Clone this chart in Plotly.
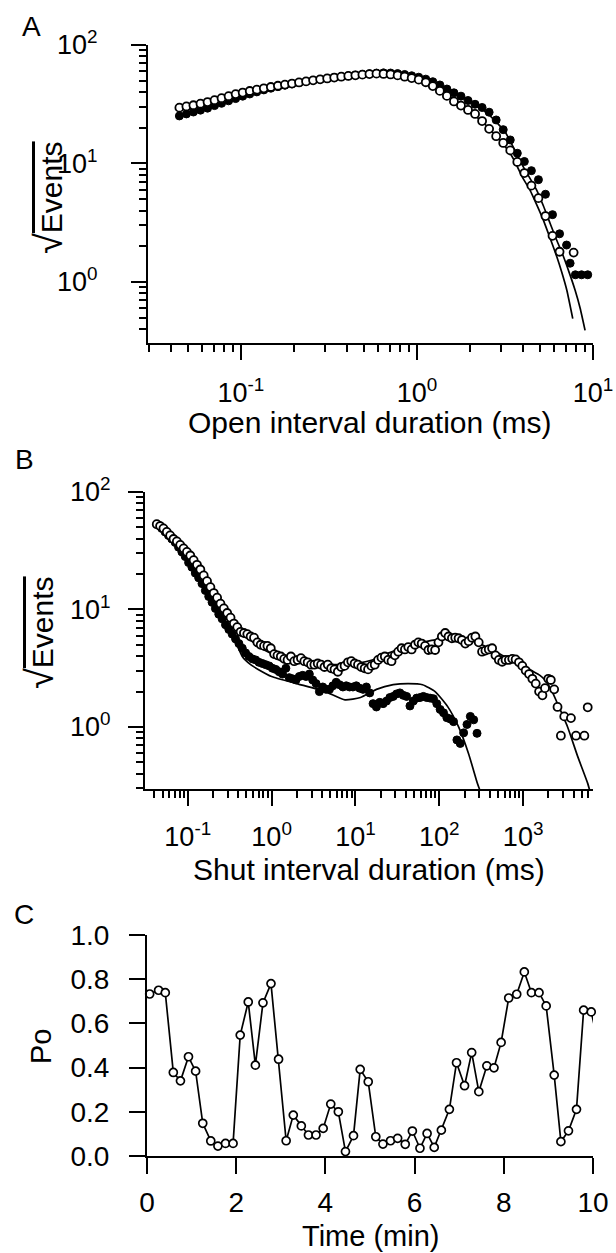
import plotly.graph_objects as go

W, H = 616, 1253
FONT = "Liberation Sans, Arial, Helvetica, sans-serif"

# ---------------- Panel A : open interval durations ----------------
A_x = [0.0447, 0.0490, 0.0537, 0.0589, 0.0646, 0.0708, 0.0776, 0.0851, 0.0933, 0.1023,
       0.1122, 0.1230, 0.1349, 0.1479, 0.1622, 0.1778, 0.1950, 0.2138, 0.2344, 0.2570,
       0.2818, 0.3090, 0.3388, 0.3715, 0.4074, 0.4467, 0.4898, 0.5370, 0.5888, 0.6457,
       0.7079, 0.7762, 0.8511, 0.9333, 1.023, 1.122, 1.230, 1.349, 1.479, 1.622,
       1.778, 1.950, 2.138, 2.344, 2.570, 2.818, 3.090, 3.388, 3.715, 4.074,
       4.467, 4.898, 5.370, 5.888, 6.457]
A_open_x = A_x + [7.762]
A_open_y = [29.6, 30.3, 31.0, 32.0, 33.0, 34.2, 35.6, 37.0, 38.5, 39.7,
            40.9, 42.0, 43.1, 44.2, 45.3, 46.3, 47.3, 48.3, 49.3, 50.3,
            51.3, 52.2, 53.1, 54.0, 54.8, 55.5, 56.2, 56.8, 57.3, 57.0,
            56.4, 55.4, 54.0, 52.6, 51.0, 48.5, 45.0, 41.0, 37.2, 33.4,
            30.8, 28.3, 26.2, 22.8, 19.6, 17.0, 14.9, 12.9, 10.3, 8.3,
            6.5, 5.1, 3.6, 2.45, 1.8, 1.77]
A_filled_x = A_x + [7.079, 7.413, 7.943, 8.610, 9.333]
A_filled_y = [25.2, 26.2, 27.2, 28.2, 29.3, 30.8, 32.2, 33.8, 35.3, 37.0,
              38.6, 40.2, 41.8, 43.2, 44.5, 45.8, 47.0, 48.1, 49.2, 50.3,
              51.3, 52.2, 53.2, 54.1, 54.9, 55.7, 56.5, 57.2, 57.8, 58.2,
              58.0, 57.4, 56.4, 55.0, 53.5, 51.5, 49.0, 46.0, 42.5, 39.5,
              37.0, 34.0, 31.6, 29.7, 27.1, 23.3, 19.3, 15.8, 12.2, 10.4,
              8.7, 7.3, 5.5, 3.7, 2.55, 2.05, 1.44, 1.15, 1.15, 1.15]
A_fit_open_x = [0.0447, 0.0631, 0.1, 0.158, 0.251, 0.398, 0.562, 0.708, 1.0, 1.259,
                1.585, 1.995, 2.512, 3.162, 3.548, 3.981, 4.385, 4.786, 5.224, 5.702,
                6.223, 6.653, 7.096, 7.674]
A_fit_open_y = [29.5, 32.5, 39.5, 45.0, 50.0, 54.6, 56.8, 56.6, 52.0, 45.5,
                35.5, 27.5, 20.5, 14.0, 10.8, 7.6, 5.97, 4.5, 3.33, 2.35,
                1.64, 1.2, 0.855, 0.49]
A_fit_filled_x = [0.0447, 0.0631, 0.1, 0.158, 0.251, 0.398, 0.631, 0.794, 1.0, 1.259,
                  1.585, 1.995, 2.512, 3.162, 3.981, 4.786, 5.224, 5.702, 6.223, 6.792,
                  7.328, 7.907, 8.453, 9.016]
A_fit_filled_y = [25.5, 29.5, 36.5, 44.2, 50.0, 54.7, 57.8, 57.2, 54.0, 48.0,
                  40.5, 33.5, 26.5, 18.5, 9.6, 5.97, 4.4, 3.13, 2.25, 1.64,
                  1.2, 0.855, 0.6, 0.39]

# ---------------- Panel B : shut interval durations ----------------
B_open_x = [0.04266, 0.04677, 0.05129, 0.05623, 0.06166, 0.06761, 0.07413, 0.08128, 0.08913, 0.09772,
            0.1072, 0.1175, 0.1288, 0.1413, 0.1549, 0.1698, 0.1862, 0.2042, 0.2239, 0.2455,
            0.2692, 0.2951, 0.3236, 0.3548, 0.3890, 0.4266, 0.4677, 0.5129, 0.5623, 0.6166,
            0.6761, 0.7413, 0.8128, 0.8913, 0.9772, 1.072, 1.175, 1.288, 1.413, 1.549,
            1.698, 1.862, 2.042, 2.239, 2.455, 2.692, 2.951, 3.236, 3.548, 3.890,
            4.266, 4.677, 5.129, 5.623, 6.166, 6.761, 7.413, 8.128, 8.913, 9.772,
            10.72, 11.75, 12.88, 14.13, 15.49, 16.98, 18.62, 20.42, 22.39, 24.55,
            26.92, 29.51, 32.36, 35.48, 38.90, 42.66, 46.77, 51.29, 56.23, 61.66,
            67.61, 74.13, 81.28, 89.13, 97.72, 107.2, 117.5, 128.8, 141.3, 154.9,
            169.8, 186.2, 204.2, 223.9, 245.5, 269.2, 295.1, 323.6, 354.8, 389.0,
            426.6, 467.7, 512.9, 562.3, 616.6, 676.1, 741.3, 812.8, 891.3, 977.2,
            1072, 1175, 1288, 1413, 1549, 1698,
            1820, 1995, 2138, 2344, 2570, 2818, 3090, 3715, 4266, 5370, 5888]
B_open_y = [53.2, 51.3, 49.0, 45.7, 42.7, 39.8, 38.0, 35.5, 33.1, 30.9,
            28.8, 26.3, 24.0, 21.9, 19.5, 17.4, 15.5, 13.8, 12.6, 11.2,
            10.2, 9.33, 8.51, 7.59, 7.08, 6.46, 6.31, 6.17, 5.89, 5.75,
            5.25, 5.01, 4.90, 4.90, 4.68, 4.17, 4.07, 3.98, 3.80, 3.72,
            3.98, 3.63, 3.72, 3.85, 3.63, 3.55, 3.39, 3.39, 3.47, 3.39,
            3.24, 3.39, 3.16, 3.09, 2.95, 3.24, 3.31, 3.55, 3.63, 3.47,
            3.39, 3.24, 3.16, 3.09, 3.31, 3.39, 3.72, 3.89, 3.98, 3.72,
            3.63, 4.07, 4.37, 4.68, 4.57, 4.79, 4.57, 5.01, 5.25, 5.13,
            4.90, 4.52, 4.57, 4.52, 5.25, 5.89, 6.31, 5.89, 5.69, 5.75,
            5.69, 5.50, 5.13, 5.37, 5.75, 5.89, 5.25, 4.37, 4.47, 4.57,
            4.68, 4.07, 3.72, 3.59, 3.72, 3.72, 3.80, 3.76, 3.55, 3.31,
            3.02, 2.82, 2.57, 2.34, 2.00, 1.86,
            2.14, 2.57, 2.51, 2.09, 1.48, 0.843, 1.23, 1.19, 0.843, 0.843, 1.47]
B_filled_x = [0.04467, 0.04898, 0.05370, 0.05888, 0.06457, 0.07079, 0.07762, 0.08511, 0.09333, 0.1023,
              0.1122, 0.1230, 0.1349, 0.1479, 0.1622, 0.1778, 0.1950, 0.2138, 0.2344, 0.2570,
              0.2818, 0.3090, 0.3388, 0.3715, 0.4074, 0.4467, 0.4898, 0.5370, 0.5888, 0.6457,
              0.7079, 0.7762, 0.8511, 0.9333, 1.023, 1.122, 1.230, 1.349, 1.479, 1.622,
              1.778, 1.950, 2.138, 2.344, 2.570, 2.818, 3.090, 3.388, 3.715, 4.074,
              4.467, 4.898, 5.370, 5.888, 6.457, 7.079, 7.762, 8.511, 9.333, 10.23,
              11.22, 12.30, 13.49, 14.79, 16.22, 17.78, 19.50, 21.38, 23.44, 25.70,
              28.18, 30.90, 33.88, 37.15, 40.74, 44.67, 48.98, 53.70, 58.88, 64.57,
              70.79, 77.62, 85.11, 93.33, 102.3, 112.2, 123.0, 134.9, 147.9, 162.2,
              177.8, 195.0, 213.8, 234.4, 257.0, 281.8]
B_filled_y = [52.5, 49.0, 45.7, 42.7, 39.8, 37.2, 33.9, 30.9, 28.2, 25.1,
              22.9, 20.4, 18.6, 16.6, 14.5, 12.9, 11.5, 10.2, 9.12, 8.32,
              7.41, 6.76, 6.17, 5.62, 5.13, 4.68, 4.27, 3.98, 3.80, 3.72,
              3.55, 3.47, 3.39, 3.31, 3.16, 3.09, 2.95, 2.82, 3.16, 2.63,
              2.57, 2.51, 2.69, 2.75, 2.69, 2.82, 2.51, 2.34, 2.00, 2.19,
              2.09, 2.09, 2.24, 2.40, 2.29, 2.19, 2.24, 2.19, 2.19, 2.24,
              2.14, 2.09, 2.19, 1.95, 1.58, 1.48, 1.62, 1.58, 1.66, 1.78,
              1.82, 1.91, 1.95, 1.86, 1.82, 1.51, 1.66, 1.76, 1.78, 1.82,
              1.78, 1.76, 1.74, 1.58, 1.41, 1.32, 1.20, 1.17, 1.11, 0.776,
              0.724, 0.891, 1.05, 1.23, 1.15, 0.883]
B_fit_upper_x = [0.04266, 0.0631, 0.1, 0.1585, 0.2512, 0.3981, 0.5623, 0.7943, 1.259, 2.512,
                 5.012, 10.0, 15.85, 25.12, 39.81, 63.10, 100, 158.5, 251.2, 398.1,
                 631.0, 1000, 1259, 1585, 1820, 2188, 2570, 3388, 4467, 5888, 6166]
B_fit_upper_y = [53.2, 42.7, 31.6, 19.5, 11.2, 7.08, 5.50, 4.57, 3.98, 3.55,
                 3.39, 3.47, 3.72, 4.27, 4.79, 5.25, 5.56, 5.62, 5.37, 4.68,
                 3.89, 3.31, 3.02, 2.75, 2.51, 2.04, 1.58, 1.0, 0.562, 0.331, 0.295]
B_fit_lower_x = [0.04467, 0.0631, 0.1, 0.1585, 0.2512, 0.3548, 0.4467, 0.5623, 0.6918, 1.0,
                 1.995, 4.365, 7.499, 11.48, 17.78, 28.18, 42.66, 63.10, 89.13, 125.9,
                 169.8, 223.9, 281.8, 302]
B_fit_lower_y = [52.5, 41.7, 29.5, 17.0, 9.12, 5.75, 3.98, 3.39, 3.09, 2.69,
                 2.34, 2.00, 1.70, 1.78, 2.09, 2.29, 2.34, 2.29, 2.00, 1.49,
                 1.0, 0.589, 0.339, 0.295]

# ---------------- Panel C : Po vs time ----------------
C_time = [0.06, 0.26, 0.41, 0.59, 0.75, 0.93, 1.09, 1.25, 1.43, 1.59,
          1.76, 1.93, 2.09, 2.27, 2.43, 2.60, 2.78, 2.95, 3.12, 3.28,
          3.46, 3.62, 3.79, 3.95, 4.12, 4.29, 4.45, 4.63, 4.78, 4.96,
          5.13, 5.29, 5.46, 5.62, 5.79, 5.95, 6.12, 6.28, 6.44, 6.60,
          6.78, 6.94, 7.12, 7.28, 7.44, 7.62, 7.78, 7.94, 8.11, 8.29,
          8.46, 8.62, 8.79, 8.95, 9.13, 9.28, 9.45, 9.63, 9.79, 9.96, 10.13]
C_po = [0.733, 0.75, 0.739, 0.378, 0.340, 0.449, 0.384, 0.148, 0.068, 0.045,
        0.057, 0.057, 0.547, 0.697, 0.411, 0.693, 0.780, 0.438, 0.069, 0.185,
        0.136, 0.095, 0.095, 0.125, 0.235, 0.200, 0.020, 0.092, 0.392, 0.336,
        0.087, 0.054, 0.069, 0.080, 0.053, 0.113, 0.035, 0.102, 0.039, 0.117,
        0.211, 0.422, 0.318, 0.468, 0.291, 0.408, 0.399, 0.514, 0.715, 0.732,
        0.833, 0.739, 0.739, 0.679, 0.366, 0.065, 0.114, 0.211, 0.660, 0.652, 0.50]

# tick labels
A_xticks = [0.1, 1, 10]
A_xticktext = ["10<sup>-1</sup>", "10<sup>0</sup>", "10<sup>1</sup>"]
B_xticks = [0.1, 1, 10, 100, 1000]
B_xticktext = ["10<sup>-1</sup>", "10<sup>0</sup>", "10<sup>1</sup>", "10<sup>2</sup>", "10<sup>3</sup>"]
Y_logticks = [1, 10, 100]
Y_logticktext = ["10<sup>0</sup>", "10<sup>1</sup>", "10<sup>2</sup>"]
C_xticks = [0, 2, 4, 6, 8, 10]
C_yticks = [0.0, 0.2, 0.4, 0.6, 0.8, 1.0]


def minor_decades(lo_exp, hi_exp, lo=None, hi=None):
    vals = []
    for e in range(lo_exp, hi_exp + 1):
        for m in range(2, 10):
            v = m * 10.0 ** e
            if (lo is None or v >= lo) and (hi is None or v <= hi):
                vals.append(v)
    return vals


def px_x(p):
    return p / W


def px_y(p):
    return 1 - p / H


fig = go.Figure()

LINE = dict(color="black", width=1.7, shape="spline", smoothing=0.5)
OPEN = dict(symbol="circle", size=8, color="white", line=dict(color="black", width=1.8))
FILLED = dict(symbol="circle", size=8, color="black", line=dict(color="black", width=1))

# Panel A
for xs, ys in [(A_fit_open_x, A_fit_open_y), (A_fit_filled_x, A_fit_filled_y)]:
    fig.add_trace(go.Scatter(x=xs, y=ys, mode="lines", line=LINE, xaxis="x", yaxis="y",
                             showlegend=False, hoverinfo="skip"))
fig.add_trace(go.Scatter(x=A_filled_x, y=A_filled_y, mode="markers", marker=FILLED,
                         xaxis="x", yaxis="y", showlegend=False, cliponaxis=False))
fig.add_trace(go.Scatter(x=A_open_x, y=A_open_y, mode="markers", marker=OPEN,
                         xaxis="x", yaxis="y", showlegend=False, cliponaxis=False))

# Panel B
for xs, ys in [(B_fit_upper_x, B_fit_upper_y), (B_fit_lower_x, B_fit_lower_y)]:
    fig.add_trace(go.Scatter(x=xs, y=ys, mode="lines", line=LINE, xaxis="x2", yaxis="y2",
                             showlegend=False, hoverinfo="skip"))
fig.add_trace(go.Scatter(x=B_filled_x, y=B_filled_y, mode="markers", marker=FILLED,
                         xaxis="x2", yaxis="y2", showlegend=False, cliponaxis=False))
fig.add_trace(go.Scatter(x=B_open_x, y=B_open_y, mode="markers", marker=OPEN,
                         xaxis="x2", yaxis="y2", showlegend=False, cliponaxis=False))

# Panel C
fig.add_trace(go.Scatter(x=C_time, y=C_po, mode="lines", line=dict(color="black", width=1.7),
                         xaxis="x3", yaxis="y3", showlegend=False))
fig.add_trace(go.Scatter(x=C_time[:-1], y=C_po[:-1], mode="markers",
                         marker=dict(symbol="circle", size=8, color="white",
                                     line=dict(color="black", width=1.7)),
                         xaxis="x3", yaxis="y3", showlegend=False, cliponaxis=False))

TICKFONT_LOG = dict(family=FONT, size=27, color="black")
TICKFONT_LIN = dict(family=FONT, size=28, color="black")


def log_axis(domain, rng, tickvals, ticktext, minor_vals, anchor, standoff):
    return dict(type="log", domain=domain, range=rng, anchor=anchor,
                showline=True, linecolor="black", linewidth=2,
                ticks="outside", ticklen=15, tickwidth=2, tickcolor="black",
                tickmode="array", tickvals=tickvals, ticktext=ticktext,
                minor=dict(ticks="outside", ticklen=7, tickwidth=1.5, tickcolor="black",
                           tickmode="array", tickvals=minor_vals, showgrid=False),
                showgrid=False, zeroline=False, tickfont=TICKFONT_LOG,
                ticklabelstandoff=standoff, automargin=False, fixedrange=True)


fig.update_layout(
    width=W, height=H,
    margin=dict(l=0, r=0, t=0, b=0, pad=0, autoexpand=False),
    paper_bgcolor="white", plot_bgcolor="white",
    font=dict(family=FONT, color="black"),
    xaxis=log_axis([px_x(148), px_x(593)], [-1.528, 1.0], A_xticks, A_xticktext,
                   minor_decades(-2, 0, lo=0.03, hi=10), "y", 10),
    yaxis=log_axis([px_y(343), px_y(45)], [-0.515, 2.0], Y_logticks, Y_logticktext,
                   minor_decades(-1, 1, lo=0.31, hi=100), "x", 28),
    xaxis2=log_axis([px_x(145), px_x(593)], [-1.51, 3.833], B_xticks, B_xticktext,
                    minor_decades(-2, 3, lo=0.031, hi=6800), "y2", 8),
    yaxis2=log_axis([px_y(789), px_y(492)], [-0.528, 2.0], Y_logticks, Y_logticktext,
                    minor_decades(-1, 1, lo=0.3, hi=100), "x2", 12),
    xaxis3=dict(domain=[px_x(147), px_x(593)], range=[0, 10], anchor="y3",
                showline=True, linecolor="black", linewidth=2,
                ticks="outside", ticklen=16, tickwidth=2, tickcolor="black",
                tickmode="array", tickvals=C_xticks,
                showgrid=False, zeroline=False, tickfont=TICKFONT_LIN,
                ticklabelstandoff=4, automargin=False, fixedrange=True),
    yaxis3=dict(domain=[px_y(1156), px_y(935)], range=[0, 1.0], anchor="x3",
                showline=True, linecolor="black", linewidth=2,
                ticks="outside", ticklen=16, tickwidth=2, tickcolor="black",
                tickmode="array", tickvals=C_yticks, tickformat=".1f",
                showgrid=False, zeroline=False, tickfont=TICKFONT_LIN,
                ticklabelstandoff=14, automargin=False, fixedrange=True),
)

TITLE_FONT = dict(family=FONT, size=30, color="black")
C_TITLE_FONT = dict(family=FONT, size=29, color="black")
LETTER_FONT = dict(family=FONT, size=28, color="black")
SQRT_EVENTS = ("<span style=\"font-size:38px\">\u221A</span>"
               "<span style=\"text-decoration:overline\">Events</span>")

annotations = [
    # panel letters
    dict(text="A", x=px_x(31), y=px_y(27), font=LETTER_FONT),
    dict(text="B", x=px_x(24), y=px_y(460), font=LETTER_FONT),
    dict(text="C", x=px_x(24), y=px_y(914), font=LETTER_FONT),
    # x titles
    dict(text="Open interval duration (ms)", x=px_x(370), y=px_y(422), font=TITLE_FONT),
    dict(text="Shut interval duration (ms)", x=px_x(369), y=px_y(870), font=TITLE_FONT),
    dict(text="Time (min)", x=px_x(370), y=px_y(1236), font=C_TITLE_FONT),
    # y titles
    dict(text=SQRT_EVENTS, x=px_x(49), y=px_y(198), textangle=-90, font=TITLE_FONT),
    dict(text=SQRT_EVENTS, x=px_x(40), y=px_y(632), textangle=-90, font=TITLE_FONT),
    dict(text="Po", x=px_x(41), y=px_y(1047), textangle=-90, font=C_TITLE_FONT),
]
for a in annotations:
    a.update(xref="paper", yref="paper", showarrow=False, xanchor="center", yanchor="middle")
fig.update_layout(annotations=annotations)

fig.write_html("out.html",
               config={"displayModeBar": False},
               post_script="document.body.style.margin='0px';document.body.style.overflow='hidden';")
